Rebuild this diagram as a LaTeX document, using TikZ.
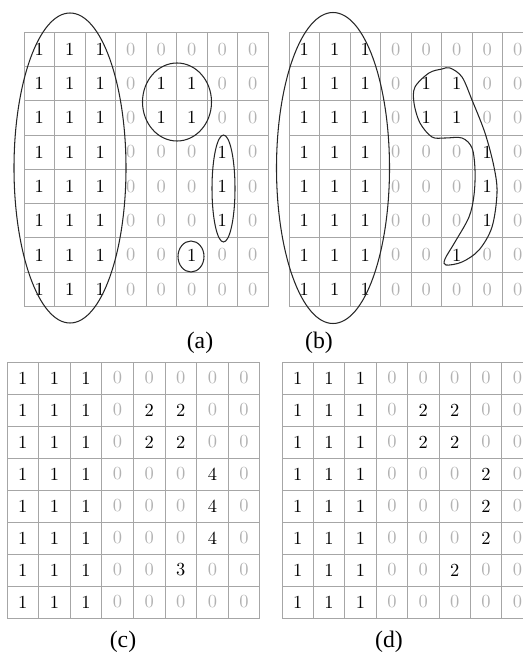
\documentclass[tikz,border=0pt]{standalone}
\usepackage{fontspec}
\newfontfamily\labelfont{Liberation Serif}
\usetikzlibrary{positioning}

% zero cells are printed light
\newcommand{\cellval}[1]{\ifnum#1=0 \textcolor{gray!60}{0}\else #1\fi}

% name, left, top, cell width, cell height (px), rows
\newcommand{\numgrid}[6]{%
  \foreach \row [count=\r] in {#6} {
    \foreach \v [count=\c] in \row {
      \node[cellbox, minimum width=#4*0.02cm, minimum height=#5*0.02cm]
        (#1-\r-\c) at ({#2+(\c-0.5)*#4},{#3+(\r-0.5)*#5}) {\cellval{\v}};
    }
  }%
}

\begin{document}
\begin{tikzpicture}[
    x=0.02cm, y=-0.02cm,
    cellbox/.style={
        draw=gray!70,
        line width=0.45pt,
        inner sep=0pt,
        font=\fontsize{10.5}{11}\selectfont
    },
    caption/.style={
        font=\labelfont\fontsize{13.5}{15}\selectfont,
        inner sep=0pt
    },
    group/.style={
        draw=black!85,
        line width=0.6pt
    }
]
\useasboundingbox (0,0) rectangle (523,652);
\clip (0,0) rectangle (523,652);

\numgrid{a}{24}{32}{30.5}{34.3}{
  {1,1,1,0,0,0,0,0},{1,1,1,0,1,1,0,0},{1,1,1,0,1,1,0,0},{1,1,1,0,0,0,1,0},
  {1,1,1,0,0,0,1,0},{1,1,1,0,0,0,1,0},{1,1,1,0,0,1,0,0},{1,1,1,0,0,0,0,0}}
\numgrid{b}{289}{32}{30.5}{34.3}{
  {1,1,1,0,0,0,0,0},{1,1,1,0,1,1,0,0},{1,1,1,0,1,1,0,0},{1,1,1,0,0,0,1,0},
  {1,1,1,0,0,0,1,0},{1,1,1,0,0,0,1,0},{1,1,1,0,0,1,0,0},{1,1,1,0,0,0,0,0}}
\numgrid{c}{7}{362}{31.6}{32}{
  {1,1,1,0,0,0,0,0},{1,1,1,0,2,2,0,0},{1,1,1,0,2,2,0,0},{1,1,1,0,0,0,4,0},
  {1,1,1,0,0,0,4,0},{1,1,1,0,0,0,4,0},{1,1,1,0,0,3,0,0},{1,1,1,0,0,0,0,0}}
\numgrid{d}{282}{362}{31.4}{32}{
  {1,1,1,0,0,0,0,0},{1,1,1,0,2,2,0,0},{1,1,1,0,2,2,0,0},{1,1,1,0,0,0,2,0},
  {1,1,1,0,0,0,2,0},{1,1,1,0,0,0,2,0},{1,1,1,0,0,2,0,0},{1,1,1,0,0,0,0,0}}

% groups in (a)
\draw[group] (70,168) ellipse [x radius=56, y radius=155];
\draw[group] (177,102) ellipse [x radius=34.5, y radius=39];
\draw[group] (223.5,188.5) ellipse [x radius=11.5, y radius=53.5];
\draw[group] (191,256.5) ellipse [x radius=13, y radius=15.5];

% groups in (b)
\draw[group] (333,168) ellipse [x radius=56.5, y radius=155.5];
\draw[group] plot[smooth cycle, tension=0.55] coordinates {
  (442,69) (429,73) (415,87) (414,103) (420,123) (432,137) (445,138)
  (462,138) (472,148) (475,170) (474,195) (469,217) (455,242) (445,259)
  (446,265) (462,262) (479,250) (492,227) (497,193) (494,167) (485,133)
  (472,100) (462,77) (450,68)};

\node[caption] (cap-a) at (200,343) {(a)};
\node[caption] (cap-b) at (319,343) {(b)};
\node[caption] (cap-c) at (123,642) {(c)};
\node[caption] (cap-d) at (389,642) {(d)};
\end{tikzpicture}
\end{document}
